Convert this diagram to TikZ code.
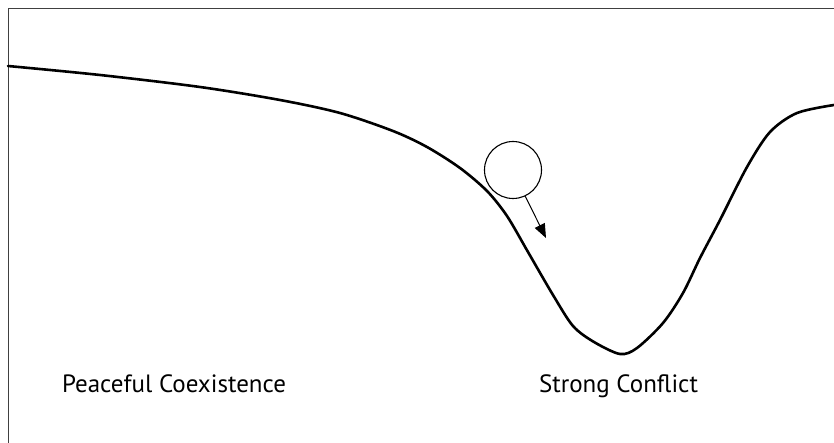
\documentclass[tikz,border=0pt]{standalone}
\usepackage{fontspec}
\setmainfont{PT Sans}
\usetikzlibrary{arrows.meta}
\tikzset{
  frame/.style={draw=black!75, line width=0.9pt},
  landscape/.style={line width=2.6pt, line join=round, line cap=round},
  ball/.style={circle, draw, line width=1.1pt, minimum size=57pt, inner sep=0pt},
  push/.style={line width=1pt, -{Triangle[length=14pt, width=11pt]}},
  label/.style={font=\fontsize{25pt}{28pt}\selectfont, anchor=base, inner sep=0pt}
}
\begin{document}
\begin{tikzpicture}[x=1pt, y=-1pt]
\useasboundingbox (0,0) rectangle (834,443);
\draw[frame] (8,460) -- (8,8) -- (850,8);
\draw[landscape] plot[smooth, tension=0.5] coordinates {
  (8,66) (100,75) (200,87) (280,100) (340,113) (393,131) (427,147) (460,168) (487,191)
  (507,216) (528,252) (553,295) (573,326) (594,342) (620,354) (637,348)
  (663,323) (683,293) (700,258) (720,220) (747,167) (770,132) (797,113) (834,105)};
\node[ball] (b) at (513,170) {};
\coordinate (tip) at (546,238);
\draw[push] (b.-65) -- (tip);
\node[label] (pc) at (174,392) {Peaceful Coexistence};
\node[label] (sc) at (618.5,392) {Strong Conflict};
\end{tikzpicture}
\end{document}
